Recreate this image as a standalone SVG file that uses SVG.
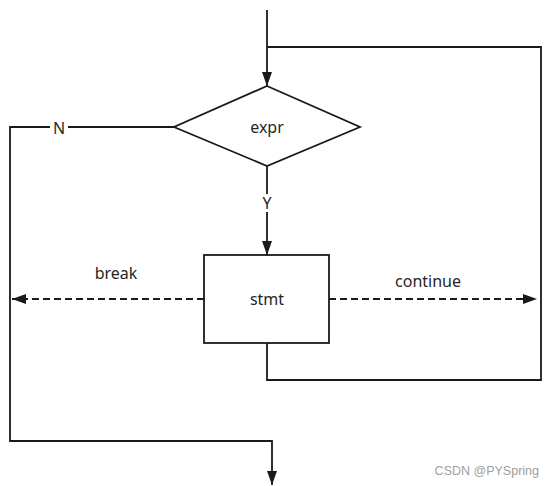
<svg xmlns="http://www.w3.org/2000/svg" width="553" height="486" viewBox="0 0 553 486">
<style>
.ln{fill:none;stroke:#1a1a1a;stroke-width:1.8}
.dash{fill:none;stroke:#1a1a1a;stroke-width:1.8;stroke-dasharray:7,4}
.shape{fill:#fff;stroke:#1a1a1a;stroke-width:1.8}
.t{font-family:"Noto Sans","Liberation Sans",sans-serif;font-size:16px;fill:#262626;text-anchor:middle;dominant-baseline:central}
.wm{font-family:"Liberation Sans",sans-serif;font-size:12.5px;fill:#a0a0a0;text-anchor:end;dominant-baseline:central}
</style>
<defs>
<marker id="arr" viewBox="0 0 14 10" refX="14" refY="5" markerWidth="14" markerHeight="10" markerUnits="userSpaceOnUse" orient="auto">
<path d="M0,0 L14,5 L0,10 Z" fill="#1a1a1a"/>
</marker>
</defs>
<rect width="553" height="486" fill="#fff"/>
<g id="connectors">
<path class="ln" d="M267,10 V86" marker-end="url(#arr)"/>
<path class="ln" d="M267,343 V380 H541 V47 H267"/>
<path class="ln" d="M174,127 H10 V441 H272 V485" marker-end="url(#arr)"/>
<path class="ln" d="M267,166 V255" marker-end="url(#arr)"/>
<path class="dash" d="M204,299 H12" marker-end="url(#arr)"/>
<path class="dash" d="M329,299 H537" marker-end="url(#arr)"/>
<rect x="50" y="119" width="18" height="17" fill="#fff"/>
<text class="t" x="59" y="128">N</text>
<rect x="259" y="194" width="16" height="18" fill="#fff"/>
<text class="t" x="267" y="203">Y</text>
<text class="t" x="116" y="273">break</text>
<text class="t" x="428" y="281">continue</text>
</g>
<g id="expr">
<polygon class="shape" points="267,86 360,127 267,166 174,127"/>
<text class="t" x="267" y="127">expr</text>
</g>
<g id="stmt">
<rect class="shape" x="204" y="255" width="125" height="88"/>
<text class="t" x="267" y="299">stmt</text>
</g>
<text class="wm" x="539" y="471">CSDN @PYSpring</text>
</svg>
